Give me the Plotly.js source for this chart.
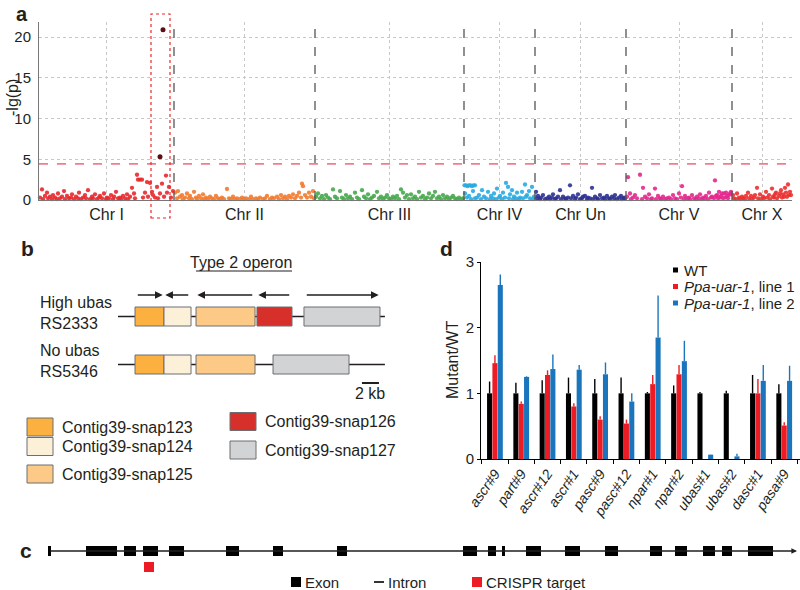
<!DOCTYPE html>
<html><head><meta charset="utf-8">
<script src="https://cdn.plot.ly/plotly-3.0.1.min.js"></script>
<style>html,body{margin:0;padding:0;background:#fff}#chart{width:800px;height:590px}</style>
</head><body><div id="chart"></div>
<script>
// ---------- Panel a: genome-wide association ----------
const chrNames=['Chr I','Chr II','Chr III','Chr IV','Chr Un','Chr V','Chr X'];
const chrLengths=[135,141,149,71,91,106,60];
const chrColors=['#e8282c','#f37a2c','#46a94a','#27abe2','#2e3192','#e4278d','#ec2f2f'];
const chrI=[[1,0.3],[3,1.3],[4,0.1],[6,0.5],[8,0.9],[9,0.2],[11,0.4],[13,0.1],[14,0.6],[16,0.3],[18,0.1],[19,0.8],[21,0.2],[23,0.4],[25,1.1],[26,0.1],[28,0.5],[30,0.2],[32,0.3],[33,0.7],[35,0.1],[37,0.4],[39,0.2],[40,0.9],[42,0.1],[44,0.3],[46,0.6],[47,0.2],[49,1.2],[51,0.1],[53,0.4],[54,0.2],[56,0.7],[58,0.1],[60,0.3],[61,0.5],[63,0.2],[65,0.8],[67,0.1],[68,0.3],[70,0.2],[72,0.6],[74,0.1],[75,0.4],[77,1.0],[79,0.2],[81,0.3],[82,0.1],[84,0.5],[86,0.2],[88,0.7],[89,0.1],[91,0.4],[93,1.5],[95,0.8],[96,0.2],[98,3.1],[99,2.5],[101,2.5],[103,2.5],[104,0.3],[106,0.9],[108,2.2],[109,0.4],[111,2.1],[113,1.0],[114,0.6],[116,0.3],[118,1.6],[119,0.2],[121,0.8],[123,2.0],[125,0.4],[127,3.0],[128,0.9],[130,1.6],[132,0.3],[134,1.1]];
const chrII=[[1,0.9],[3,0.2],[4,1.1],[6,0.4],[8,0.6],[9,0.1],[11,0.3],[13,0.8],[15,0.2],[16,0.5],[18,0.1],[20,1.0],[22,0.3],[23,0.1],[25,0.5],[27,0.2],[29,0.7],[30,0.1],[32,0.3],[34,0.1],[36,0.4],[38,0.2],[40,0.1],[42,0.5],[44,0.2],[46,0.1],[48,0.3],[50,0.1],[53,1.35],[55,0.2],[57,0.1],[59,0.4],[61,0.1],[63,0.2],[66,0.1],[68,0.3],[70,0.1],[72,0.2],[75,0.1],[77,0.4],[79,0.1],[82,0.2],[84,0.1],[86,0.3],[89,0.1],[91,0.2],[93,0.5],[96,0.1],[98,0.3],[100,0.2],[103,0.4],[105,0.1],[107,0.6],[109,0.2],[111,0.4],[113,0.1],[115,0.5],[117,0.3],[119,0.7],[121,0.2],[123,0.5],[125,0.9],[127,0.3],[128,2.0],[129,1.7],[131,0.6],[133,0.3],[135,0.9],[137,0.4],[139,1.1],[140,0.2]];
const chrIII=[[1,0.4],[3,0.8],[5,0.2],[7,0.5],[9,0.1],[11,0.6],[13,0.3],[15,0.1],[18,1.3],[20,0.4],[22,0.2],[25,1.1],[27,0.3],[29,0.1],[31,0.6],[33,0.2],[35,0.4],[37,0.1],[40,0.9],[42,0.3],[44,0.1],[47,1.2],[49,0.4],[51,0.2],[53,0.7],[55,0.1],[57,0.3],[59,0.5],[62,1.0],[64,0.2],[66,0.4],[68,0.1],[70,0.3],[72,0.6],[74,0.2],[76,0.1],[78,0.4],[80,0.2],[82,0.5],[84,0.1],[86,1.3],[88,0.9],[90,0.3],[92,0.6],[94,0.1],[96,0.7],[98,0.2],[100,0.4],[102,0.1],[104,1.0],[106,0.3],[108,0.5],[110,0.1],[112,0.3],[114,0.8],[116,0.2],[118,0.5],[120,1.0],[122,0.2],[124,0.4],[126,0.1],[128,0.6],[130,0.2],[132,0.4],[134,0.1],[136,0.3],[138,0.5],[140,0.2],[142,0.1],[144,0.3],[146,0.1],[148,0.2]];
const chrIV=[[0.5,1.8],[2,1.8],[3.5,1.7],[5,1.8],[6.5,1.8],[8,1.7],[9.5,1.8],[11,1.8],[1,0.8],[3,0.3],[5,0.5],[7,0.1],[9,1.1],[11,0.2],[13,0.3],[15,0.6],[17,0.1],[18,1.2],[20,0.4],[22,0.2],[24,1.0],[26,0.1],[27,0.5],[29,0.2],[30,0.8],[32,0.1],[33,1.4],[35,0.3],[36,0.5],[38,0.1],[39,0.9],[41,0.3],[42,2.1],[44,1.6],[45,0.2],[46,0.7],[48,1.2],[49,0.1],[50,0.4],[52,0.2],[53,0.9],[55,0.1],[56,0.3],[58,1.0],[59,0.2],[61,1.9],[62,0.4],[63,0.6],[65,1.1],[66,0.2],[68,1.6],[69,0.1],[70,0.4]];
const chrUn=[[1,1.0],[2,0.2],[3,0.5],[5,0.1],[6,0.3],[8,0.6],[10,0.1],[12,0.2],[14,0.4],[15,0.1],[17,0.3],[18,0.7],[20,0.1],[21,0.2],[23,0.4],[25,1.2],[26,0.1],[28,0.4],[30,0.2],[31,0.1],[33,0.3],[35,1.8],[36,0.2],[38,0.5],[40,0.1],[41,0.3],[43,0.7],[45,0.1],[47,0.2],[48,0.4],[50,0.5],[52,0.1],[53,0.3],[55,0.2],[57,1.5],[58,0.1],[60,0.4],[62,0.2],[63,0.1],[65,0.6],[67,0.2],[69,0.3],[70,0.1],[72,0.5],[74,0.2],[75,0.1],[77,0.4],[79,0.2],[80,0.6],[82,0.1],[84,0.3],[86,0.5],[87,0.1],[89,0.3],[90,0.2]];
const chrV=[[1,0.4],[2,2.8],[4,0.8],[5,0.1],[7,0.3],[9,0.6],[11,0.2],[14,3.1],[16,0.1],[17,1.5],[19,0.4],[21,0.2],[23,0.7],[25,0.1],[26,0.2],[29,1.4],[30,0.1],[32,0.5],[34,0.2],[35,0.1],[37,0.4],[39,0.1],[41,0.2],[43,0.3],[45,0.1],[47,0.6],[49,0.2],[51,0.1],[53,0.8],[55,0.3],[56,1.7],[58,0.1],[59,0.5],[61,0.2],[63,0.3],[64,0.1],[66,0.6],[68,0.2],[70,0.1],[71,0.4],[73,0.2],[74,0.7],[76,0.1],[77,0.3],[79,0.2],[80,0.5],[82,0.1],[83,0.9],[85,0.3],[86,0.4],[88,0.2],[89,2.4],[90,0.5],[91,0.6],[92,0.2],[93,1.0],[94,0.3],[95,0.5],[96,0.8],[97,0.2],[98,0.8],[99,0.3],[100,0.9],[101,0.5],[102,0.2],[103,0.6],[104,0.8],[105,1.0]];
const chrX=[[1,0.6],[2,0.2],[4,0.1],[5,0.8],[7,0.3],[8,0.1],[10,0.4],[11,0.2],[13,0.1],[14,0.5],[16,0.9],[17,0.2],[19,0.5],[20,0.1],[22,0.3],[23,0.6],[25,1.5],[26,0.2],[28,0.7],[29,0.1],[31,0.4],[32,0.2],[34,1.0],[35,0.3],[37,0.6],[38,0.1],[40,1.4],[41,0.4],[42,0.3],[43,0.7],[44,0.9],[45,0.2],[47,0.5],[48,0.8],[49,1.2],[50,0.3],[51,0.7],[52,0.4],[53,1.5],[54,0.9],[55,0.4],[56,1.9],[57,0.6],[58,1.0],[59,0.6]];
const chrPoints=[chrI,chrII,chrIII,chrIV,chrUn,chrV,chrX];
const hitPoints=[[121,5.3],[124,20.9]];      // on Chr I
const sigThreshold=4.43;
const highlightRegion=[112,131];            // on Chr I
const aYTicks=[0,5,10,15,20];

// ---------- Panel d: metabolite levels ----------
const metabolites=['ascr#9','part#9','ascr#12','ascr#1','pasc#9','pasc#12','npar#1','npar#2','ubas#1','ubas#2','dasc#1','pasa#9'];
const seriesNames=['WT','<i>Ppa-uar-1</i>, line 1','<i>Ppa-uar-1</i>, line 2'];
const seriesColors=['#000000','#ed1c24','#1b75bc'];
const wtMean=[1,1,1,1,1,1,1,1,1,1,1,1];
const wtErr=[0.18,0.16,0.20,0.24,0.22,0.24,0.02,0.12,0.02,0.04,0.28,0.14];
const line1Mean=[1.46,0.84,1.28,0.80,0.60,0.54,1.14,1.29,0,0,1.00,0.51];
const line1Err=[0.12,0.035,0.07,0.05,0.05,0.06,0.14,0.14,0,0,0.22,0.05];
const line2Mean=[2.65,1.25,1.37,1.36,1.29,0.875,1.85,1.49,0.066,0.04,1.19,1.19];
const line2Err=[0.16,0.01,0.22,0.07,0.18,0.125,0.64,0.31,0.004,0.04,0.24,0.23];
const dYTicks=[0,1,2,3];

// ---------- Panel b: operon structure (kb) ----------
const geneNames=['Contig39-snap123','Contig39-snap124','Contig39-snap125','Contig39-snap126','Contig39-snap127'];
const geneColors=['#fbb040','#fdf0d9','#fcc987','#d7302a','#d1d3d4'];
const highGenes=[0,1,2,3,4];
const highStart=[2.0,5.41,9.18,16.35,21.88];
const highEnd=[5.41,8.59,16.12,20.47,30.82];
const highStrand=[1,-1,-1,-1,1];
const noGenes=[0,1,2,4];
const noStart=[2.0,5.41,9.18,18.24];
const noEnd=[5.41,8.59,16.12,27.18];
const locusLengthKb=31.4;
const operonGenes=[2,3];
const scaleBarKb=[28.7,30.7];

// ---------- Panel c: gene model ----------
const exonStart=[48,86,124,143,169,226,273,337,463,488,502,526,565,605,650,675,703,722,748];
const exonEnd=[51,117,136,158,184,239,283,347,477,496,505,541,580,618,662,687,715,732,773];
const crisprTarget=[144,154];
const transcriptSpan=[49,797];

// ---------- build ----------
const W=800,H=590;
const px=x=>x/W, py=y=>1-y/H;
const FONT="'Liberation Sans', Arial, sans-serif";
const INK='#231f20';

const chrStarts=[];let acc=0;
chrLengths.forEach(l=>{chrStarts.push(acc);acc+=l;});
const genomeLen=acc;
const chrCenters=chrStarts.map((s,i)=>s+chrLengths[i]/2);

const traces=[];
chrPoints.forEach((pts,i)=>{
  traces.push({type:'scatter',mode:'markers',x:pts.map(p=>chrStarts[i]+p[0]),y:pts.map(p=>p[1]),
    marker:{color:chrColors[i],size:4.3,opacity:0.9},xaxis:'x',yaxis:'y',hoverinfo:'skip',cliponaxis:false});
});
traces.push({type:'scatter',mode:'markers',x:hitPoints.map(p=>chrStarts[0]+p[0]),y:hitPoints.map(p=>p[1]),
  marker:{color:'#5b0f12',size:5},xaxis:'x',yaxis:'y',hoverinfo:'skip'});

const means=[wtMean,line1Mean,line2Mean], errs=[wtErr,line1Err,line2Err];
means.forEach((m,i)=>{
  traces.push({type:'bar',x:metabolites,y:m,marker:{color:seriesColors[i],line:{width:0}},
    error_y:{type:'data',symmetric:false,array:errs[i],arrayminus:m.map(()=>0),color:seriesColors[i],thickness:1.4,width:0},
    xaxis:'x2',yaxis:'y2',hoverinfo:'skip'});
});
traces.push({type:'scatter',x:[],y:[],xaxis:'x3',yaxis:'y3'});
traces.push({type:'scatter',x:[],y:[],xaxis:'x4',yaxis:'y4'});

const shapes=[], annotations=[];
const ann=(o)=>annotations.push(Object.assign({showarrow:false,xref:'paper',yref:'paper',font:{family:FONT,size:16,color:INK}},o));

// panel a shapes
for(let i=1;i<chrStarts.length;i++){
  shapes.push({type:'line',xref:'x',yref:'y',x0:chrStarts[i],x1:chrStarts[i],y0:0,y1:21.85,line:{color:'#555',width:1.3,dash:'dash'}});
}
shapes.push({type:'line',xref:'x',yref:'y',x0:0,x1:genomeLen,y0:sigThreshold,y1:sigThreshold,line:{color:'#f37c8c',width:1.6,dash:'dash'}});
shapes.push({type:'rect',xref:'x',yref:'paper',x0:chrStarts[0]+highlightRegion[0],x1:chrStarts[0]+highlightRegion[1],y0:py(218),y1:py(14),line:{color:'#e8282c',width:1.2,dash:'dot'}});
ann({text:'<b>a</b>',x:px(22),y:py(1),xanchor:'center',yanchor:'top',font:{family:FONT,size:20,color:INK}});
ann({text:'-lg(p)',x:px(12),y:py(98),textangle:-90,xanchor:'center',yanchor:'middle'});

// panel b
ann({text:'<b>b</b>',x:px(27),y:py(248),xanchor:'center',yanchor:'middle',font:{family:FONT,size:21,color:INK}});
const opStart=highStart[highGenes.indexOf(operonGenes[0])], opEnd=highEnd[highGenes.indexOf(operonGenes[1])];
annotations.push({text:'Type 2 operon',xref:'x3',yref:'paper',x:(opStart+opEnd)/2-0.4,y:py(262),showarrow:false,xanchor:'center',yanchor:'middle',font:{family:FONT,size:16,color:INK}});
shapes.push({type:'line',xref:'x3',yref:'paper',x0:opStart,x1:opEnd,y0:py(271),y1:py(271),line:{color:INK,width:1.2}});
function drawRow(genes,starts,ends,yc,label){
  shapes.push({type:'line',xref:'x3',yref:'paper',x0:0,x1:locusLengthKb,y0:py(yc),y1:py(yc),line:{color:INK,width:1.6}});
  genes.forEach((g,k)=>{
    shapes.push({type:'rect',xref:'x3',yref:'paper',x0:starts[k],x1:ends[k],y0:py(yc+9.5),y1:py(yc-9.5),fillcolor:geneColors[g],line:{color:'#6d6e71',width:1}});
  });
  ann({text:label,x:px(38),y:py(yc-4),xanchor:'left',yanchor:'middle',align:'left'});
}
drawRow(highGenes,highStart,highEnd,316.5,'High ubas<br>RS2333');
drawRow(noGenes,noStart,noEnd,364.5,'No ubas<br>RS5346');
highGenes.forEach((g,k)=>{
  const a=highStart[k]+0.15,b=highEnd[k]-0.15;
  const tail=highStrand[k]>0?a:b, head=highStrand[k]>0?b:a;
  annotations.push({text:'',xref:'x3',yref:'paper',axref:'x3',x:head,ax:tail,y:py(295),ay:0,ayref:'pixel',showarrow:true,arrowhead:2,arrowsize:1.1,arrowwidth:1.4,arrowcolor:INK,standoff:0,startstandoff:0});
});
shapes.push({type:'line',xref:'x3',yref:'paper',x0:scaleBarKb[0],x1:scaleBarKb[1],y0:py(383),y1:py(383),line:{color:INK,width:2}});
annotations.push({text:(scaleBarKb[1]-scaleBarKb[0])+' kb',xref:'x3',yref:'paper',x:(scaleBarKb[0]+scaleBarKb[1])/2,y:py(393),showarrow:false,xanchor:'center',yanchor:'middle',font:{family:FONT,size:16,color:INK}});
// legend of panel b
const legPos=[[27,427],[27,446.5],[27,474],[230,421.5],[230,450]];
geneNames.forEach((n,i)=>{
  const [lx,ly]=legPos[i];
  shapes.push({type:'rect',xref:'paper',yref:'paper',x0:px(lx),x1:px(lx+26),y0:py(ly+9),y1:py(ly-9),fillcolor:geneColors[i],line:{color:'#6d6e71',width:1}});
  ann({text:n,x:px(lx+33),y:py(ly),xanchor:'left',yanchor:'middle'});
});

// panel c
ann({text:'<b>c</b>',x:px(26),y:py(550),xanchor:'center',yanchor:'middle',font:{family:FONT,size:21,color:INK}});
annotations.push({text:'',xref:'x4',yref:'paper',axref:'x4',x:transcriptSpan[1],ax:transcriptSpan[0],y:py(551),ay:0,ayref:'pixel',showarrow:true,arrowhead:2,arrowsize:0.8,arrowwidth:1.4,arrowcolor:INK,standoff:0});
exonStart.forEach((s,i)=>{
  shapes.push({type:'rect',xref:'x4',yref:'paper',x0:s,x1:exonEnd[i],y0:py(556),y1:py(546),fillcolor:'#000',line:{width:0}});
});
shapes.push({type:'rect',xref:'x4',yref:'paper',x0:crisprTarget[0],x1:crisprTarget[1],y0:py(572),y1:py(562),fillcolor:'#ed1c24',line:{width:0}});
shapes.push({type:'rect',xref:'paper',yref:'paper',x0:px(291),x1:px(301),y0:py(587),y1:py(577),fillcolor:'#000',line:{width:0}});
ann({text:'Exon',x:px(303),y:py(582),xanchor:'left',yanchor:'middle',font:{family:FONT,size:15,color:INK}});
shapes.push({type:'line',xref:'paper',yref:'paper',x0:px(374),x1:px(384),y0:py(582),y1:py(582),line:{color:'#000',width:1.6}});
ann({text:'Intron',x:px(386),y:py(582),xanchor:'left',yanchor:'middle',font:{family:FONT,size:15,color:INK}});
shapes.push({type:'rect',xref:'paper',yref:'paper',x0:px(472),x1:px(482),y0:py(587),y1:py(577),fillcolor:'#ed1c24',line:{width:0}});
ann({text:'CRISPR target',x:px(484),y:py(582),xanchor:'left',yanchor:'middle',font:{family:FONT,size:15,color:INK}});

// panel d
ann({text:'<b>d</b>',x:px(446),y:py(248),xanchor:'center',yanchor:'middle',font:{family:FONT,size:21,color:INK}});
ann({text:'Mutant/WT',x:px(452),y:py(360),textangle:-90,xanchor:'center',yanchor:'middle'});
const legRows=[270,286.5,303];
seriesNames.forEach((n,i)=>{
  shapes.push({type:'rect',xref:'paper',yref:'paper',x0:px(673),x1:px(678),y0:py(legRows[i]+2.5),y1:py(legRows[i]-2.5),fillcolor:seriesColors[i],line:{width:0}});
  ann({text:n,x:px(682),y:py(legRows[i]),xanchor:'left',yanchor:'middle',font:{family:FONT,size:15,color:INK}});
});

const layout={
  width:W,height:H,margin:{l:0,r:0,t:0,b:0},paper_bgcolor:'#fff',plot_bgcolor:'rgba(0,0,0,0)',
  font:{family:FONT,size:15,color:INK},showlegend:false,hovermode:false,
  barmode:'group',bargap:0.39,bargroupgap:0.05,
  xaxis:{domain:[px(39),px(792)],range:[0,genomeLen],tickvals:chrCenters,ticktext:chrNames,showgrid:true,gridcolor:'#c8c8c8',griddash:'dot',gridwidth:1,
    showline:true,linecolor:'#777',linewidth:1,ticks:'',zeroline:false,tickfont:{size:16},anchor:'y',fixedrange:true},
  yaxis:{domain:[py(200),py(22)],range:[0,21.85],tickvals:aYTicks,showgrid:true,gridcolor:'#c8c8c8',griddash:'dot',gridwidth:1,
    showline:true,linecolor:'#777',linewidth:1,ticks:'outside',ticklen:4,tickcolor:'rgba(0,0,0,0)',zeroline:false,tickfont:{size:15},anchor:'x',fixedrange:true},
  xaxis2:{domain:[px(481),1],type:'category',range:[-0.53,11.6],tickangle:-55,tickfont:{size:14,style:'italic'},ticks:'outside',tickson:'boundaries',ticklen:4,
    tickcolor:'#000',showline:true,linecolor:'#000',linewidth:1,showgrid:false,anchor:'y2',fixedrange:true},
  yaxis2:{domain:[py(459),py(262)],range:[0,3],tickvals:dYTicks,ticks:'outside',ticklen:3,tickcolor:'#000',showline:true,linecolor:'#000',linewidth:1,
    showgrid:false,zeroline:false,anchor:'x2',tickfont:{size:15},fixedrange:true},
  xaxis3:{domain:[0,px(420)],range:[-118/8.5,302/8.5],visible:false,anchor:'y3',fixedrange:true},
  yaxis3:{domain:[0.3,0.35],range:[0,1],visible:false,anchor:'x3',fixedrange:true},
  xaxis4:{domain:[0,1],range:[0,800],visible:false,anchor:'y4',fixedrange:true},
  yaxis4:{domain:[0,0.02],range:[0,1],visible:false,anchor:'x4',fixedrange:true},
  shapes:shapes,annotations:annotations
};
Plotly.newPlot('chart',traces,layout,{displayModeBar:false,staticPlot:true});
</script></body></html>
